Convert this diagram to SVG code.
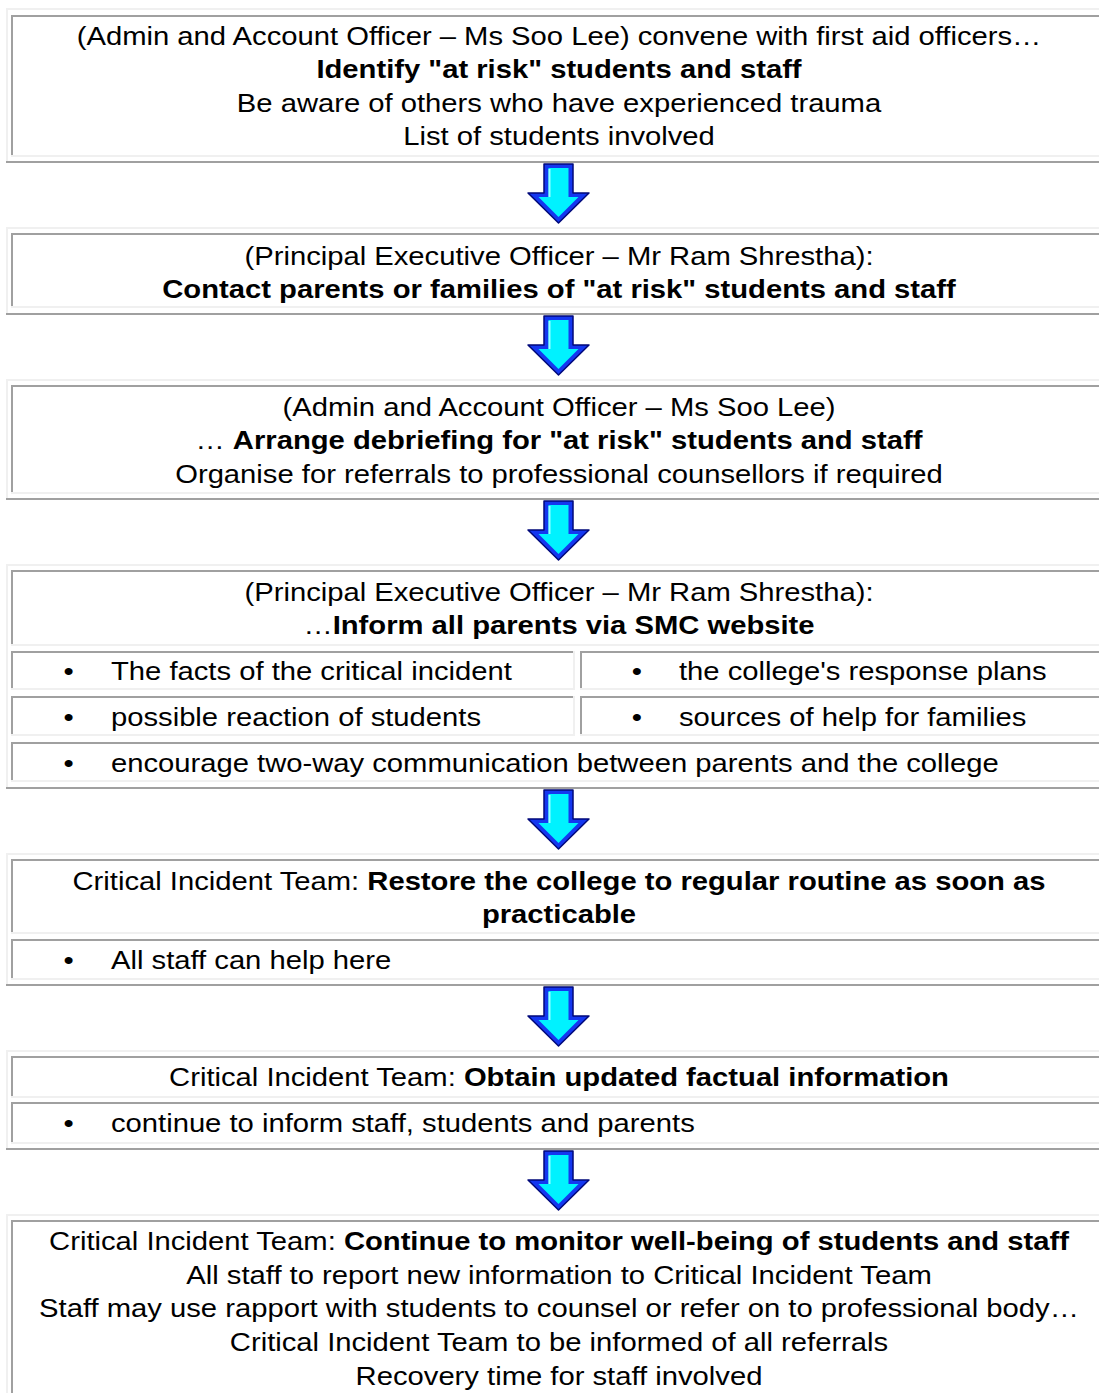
<svg xmlns="http://www.w3.org/2000/svg" width="1099" height="1393" viewBox="0 0 1099 1393">
<style>
.lt{stroke:#f0f0f0;stroke-width:2;fill:none}
.dk{stroke:#a0a0a0;stroke-width:2;fill:none}
text{font-family:"Liberation Sans",Arial,sans-serif;font-size:25.4px;fill:#000}
.b{font-weight:bold}
.c{text-anchor:middle}
.bu{text-anchor:middle}
</style>
<defs>
<g id="arrow">
<path d="M16,0 H45 V29 H61 L30.5,59 L0,29 H16 Z" fill="#1437f0" stroke="#00087a" stroke-width="1.5" stroke-linejoin="round"/>
<path d="M20.5,4 H40.5 V33 H50.5 L30.5,53 L10.5,33 H20.5 Z" fill="#00f2ff"/>
<path d="M21.5,5 V33" stroke="#9affff" stroke-width="2"/>
</g>
</defs>
<rect width="1099" height="1393" fill="#fff"/>

<g id="node1">
<path class="lt" d="M7,163 V9 H1110"/><path class="dk" d="M6,162 H1110"/>
<path class="dk" d="M12,157 V16 H1110"/><path class="lt" d="M11,156 H1110"/>
<g transform="scale(1.15 1)">
<text class="c" x="486.1" y="45">(Admin and Account Officer – Ms Soo Lee) convene with first aid officers…</text>
<text class="c b" x="486.1" y="78.5">Identify "at risk" students and staff</text>
<text class="c" x="486.1" y="112">Be aware of others who have experienced trauma</text>
<text class="c" x="486.1" y="145.5">List of students involved</text>
</g>
</g>

<g id="node2">
<path class="lt" d="M7,315 V228 H1110"/><path class="dk" d="M6,314 H1110"/>
<path class="dk" d="M12,308 V234 H1110"/><path class="lt" d="M11,307 H1110"/>
<g transform="scale(1.15 1)">
<text class="c" x="486.1" y="265">(Principal Executive Officer – Mr Ram Shrestha):</text>
<text class="c b" x="486.1" y="298.5">Contact parents or families of "at risk" students and staff</text>
</g>
</g>

<g id="node3">
<path class="lt" d="M7,500 V380 H1110"/><path class="dk" d="M6,499 H1110"/>
<path class="dk" d="M12,494 V386 H1110"/><path class="lt" d="M11,493 H1110"/>
<g transform="scale(1.15 1)">
<text class="c" x="486.1" y="416">(Admin and Account Officer – Ms Soo Lee)</text>
<text class="c" x="486.1" y="449.5">… <tspan class="b">Arrange debriefing for "at risk" students and staff</tspan></text>
<text class="c" x="486.1" y="483">Organise for referrals to professional counsellors if required</text>
</g>
</g>

<g id="node4">
<path class="lt" d="M7,789 V565 H1110"/><path class="dk" d="M6,788 H1110"/>
<path class="dk" d="M12,646 V571 H1110"/><path class="lt" d="M11,645 H1110"/>
<path class="dk" d="M12,690 V652 H574"/><path class="lt" d="M11,689 H574 V651"/>
<path class="dk" d="M581,690 V652 H1110"/><path class="lt" d="M580,689 H1110"/>
<path class="dk" d="M12,736 V697 H574"/><path class="lt" d="M11,735 H574 V696"/>
<path class="dk" d="M581,736 V697 H1110"/><path class="lt" d="M580,735 H1110"/>
<path class="dk" d="M12,782 V743 H1110"/><path class="lt" d="M11,781 H1110"/>
<g transform="scale(1.15 1)">
<text class="c" x="486.1" y="601">(Principal Executive Officer – Mr Ram Shrestha):</text>
<text class="c" x="486.1" y="634.5">…<tspan class="b">Inform all parents via SMC website</tspan></text>
<text class="bu" x="59.6" y="680">•</text><text x="96.5" y="680">The facts of the critical incident</text>
<text class="bu" x="553.9" y="680">•</text><text x="590.4" y="680">the college's response plans</text>
<text class="bu" x="59.6" y="726">•</text><text x="96.5" y="726">possible reaction of students</text>
<text class="bu" x="553.9" y="726">•</text><text x="590.4" y="726">sources of help for families</text>
<text class="bu" x="59.6" y="772">•</text><text x="96.5" y="772">encourage two-way communication between parents and the college</text>
</g>
</g>

<g id="node5">
<path class="lt" d="M7,986 V854 H1110"/><path class="dk" d="M6,985 H1110"/>
<path class="dk" d="M12,934 V860 H1110"/><path class="lt" d="M11,933 H1110"/>
<path class="dk" d="M12,980 V940 H1110"/><path class="lt" d="M11,979 H1110"/>
<g transform="scale(1.15 1)">
<text class="c" x="486.1" y="890">Critical Incident Team: <tspan class="b">Restore the college to regular routine as soon as</tspan></text>
<text class="c b" x="486.1" y="923.5">practicable</text>
<text class="bu" x="59.6" y="969">•</text><text x="96.5" y="969">All staff can help here</text>
</g>
</g>

<g id="node6">
<path class="lt" d="M7,1150 V1051 H1110"/><path class="dk" d="M6,1149 H1110"/>
<path class="dk" d="M12,1098 V1057 H1110"/><path class="lt" d="M11,1097 H1110"/>
<path class="dk" d="M12,1144 V1103 H1110"/><path class="lt" d="M11,1143 H1110"/>
<g transform="scale(1.15 1)">
<text class="c" x="486.1" y="1086">Critical Incident Team: <tspan class="b">Obtain updated factual information</tspan></text>
<text class="bu" x="59.6" y="1132">•</text><text x="96.5" y="1132">continue to inform staff, students and parents</text>
</g>
</g>

<g id="node7">
<path class="lt" d="M7,1400 V1215 H1110"/>
<path class="dk" d="M12,1400 V1221 H1110"/>
<g transform="scale(1.15 1)">
<text class="c" x="486.1" y="1250">Critical Incident Team: <tspan class="b">Continue to monitor well-being of students and staff</tspan></text>
<text class="c" x="486.1" y="1284">All staff to report new information to Critical Incident Team</text>
<text class="c" x="486.1" y="1317">Staff may use rapport with students to counsel or refer on to professional body…</text>
<text class="c" x="486.1" y="1351">Critical Incident Team to be informed of all referrals</text>
<text class="c" x="486.1" y="1385">Recovery time for staff involved</text>
</g>
</g>

<g id="connectors">
<use href="#arrow" transform="translate(528,164)"/>
<use href="#arrow" transform="translate(528,316)"/>
<use href="#arrow" transform="translate(528,501)"/>
<use href="#arrow" transform="translate(528,790)"/>
<use href="#arrow" transform="translate(528,987)"/>
<use href="#arrow" transform="translate(528,1151)"/>
</g>
</svg>
